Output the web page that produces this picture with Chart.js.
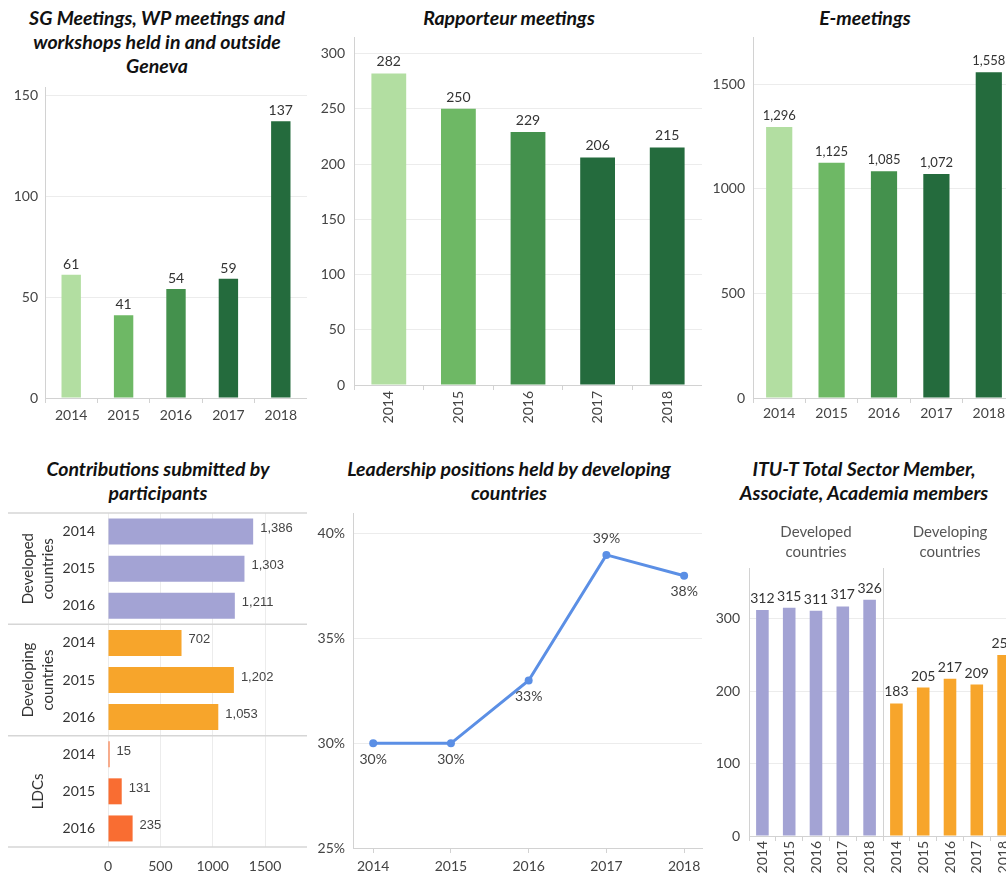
<!DOCTYPE html>
<html><head><meta charset="utf-8">
<script src="https://cdn.jsdelivr.net/npm/chart.js"></script>
<style>
html,body{margin:0;padding:0;background:#fff;width:1006px;height:875px;overflow:hidden;position:relative;}
.t{position:absolute;font:italic bold 19.5px Lato, 'Open Sans', sans-serif;color:#111;text-align:center;line-height:24px;white-space:nowrap;transform:translateX(-50%);}
canvas{position:absolute;}
</style></head><body>
<div class="t" style="left:157px;top:6px">SG Meetings, WP meetings and<br>workshops held in and outside<br>Geneva</div>
<div class="t" style="left:509px;top:6px">Rapporteur meetings</div>
<div class="t" style="left:865px;top:6px">E-meetings</div>
<div class="t" style="left:158px;top:457px">Contributions submitted by<br>participants</div>
<div class="t" style="left:509px;top:457px">Leadership positions held by developing<br>countries</div>
<div class="t" style="left:864px;top:457px">ITU-T Total Sector Member,<br>Associate, Academia members</div>
<script>
// ---- data ----
const years = ['2014','2015','2016','2017','2018'];
const sgMeetings = [61, 41, 54, 59, 137];
const rapporteurMeetings = [282, 250, 229, 206, 215];
const eMeetings = [1296, 1125, 1085, 1072, 1558];
const contribYears = ['2014','2015','2016'];
const contribGroups = [['Developed','countries'], ['Developing','countries'], ['LDCs']];
const contribDeveloped = [1386, 1303, 1211];
const contribDeveloping = [702, 1202, 1053];
const contribLDCs = [15, 131, 235];
const leadershipYears = [2014, 2015, 2016, 2017, 2018];
const leadershipPct = [30, 30, 33, 39, 38];
const memberGroups = [['Developed','countries'], ['Developing','countries']];
const membersDeveloped = [312, 315, 311, 317, 326];
const membersDeveloping = [183, 205, 217, 209, 250];
const ticksSG = [0, 50, 100, 150];
const ticksRap = [0, 50, 100, 150, 200, 250, 300];
const ticksE = [0, 500, 1000, 1500];
const ticksContrib = [0, 500, 1000, 1500];
const ticksLead = [25, 30, 35, 40];
const ticksMembers = [0, 100, 200, 300];

// ---- styles ----
const greens = ['#b2dea1', '#6eb865', '#44914d', '#246b3d', '#246b3d'];
const LAV = '#a3a3d4', ORA = '#f7a52b', RED = '#f96d32', BLUE = '#5b8fe5';
const GRID = '#ececec', AXIS = '#d2d2d2';

Chart.defaults.font.family = "Lato, 'Open Sans', sans-serif";
Chart.defaults.font.size = 14;
Chart.defaults.color = '#444';
Chart.defaults.animation = false;
Chart.defaults.plugins.legend.display = false;
Chart.defaults.plugins.tooltip.enabled = false;

function mk(left, top, width, height) {
  const c = document.createElement('canvas');
  c.width = width; c.height = height;
  c.style.left = left + 'px'; c.style.top = top + 'px';
  document.body.appendChild(c);
  return c;
}
const fixW = w => s => { s.width = w; };
const fixH = h => s => { s.height = h; };
const setTicks = arr => s => { s.ticks = arr.map(v => ({ value: v })); };
const fmtNum = v => Number(v).toLocaleString('en-US');

function labels(cfg) {
  return { id: 'vlabels', afterDatasetsDraw(chart) {
    const ctx = chart.ctx; ctx.save();
    ctx.font = cfg.font; ctx.fillStyle = cfg.color;
    chart.data.datasets.forEach((ds, di) => {
      chart.getDatasetMeta(di).data.forEach((el, i) => {
        const v = ds.data[i];
        const txt = cfg.fmt(typeof v === 'object' ? v.y : v);
        if (cfg.mode === 'h') {
          ctx.textAlign = 'left'; ctx.textBaseline = 'middle';
          ctx.fillText(txt, el.x + cfg.gap, el.y + cfg.dy);
        } else if (cfg.mode === 'line') {
          ctx.textAlign = 'center'; ctx.textBaseline = 'middle';
          ctx.fillText(txt, el.x, el.y + (cfg.pos[i] === 'above' ? -cfg.gap : cfg.gap));
        } else {
          ctx.textAlign = 'center'; ctx.textBaseline = 'alphabetic';
          ctx.fillText(txt, el.x, el.y - cfg.gap);
        }
      });
    });
    ctx.restore();
  }};
}

function yAxis(min, max, arr, w, pad, fmt) {
  return { min, max, afterBuildTicks: setTicks(arr), afterFit: fixW(w),
    grid: { color: GRID, drawTicks: false }, border: { color: AXIS },
    ticks: { padding: pad, color: '#444', font: { size: 14 }, callback: fmt || (v => String(v)) } };
}
function xCat(h, pad, rot) {
  return { afterFit: fixH(h),
    grid: { drawOnChartArea: false, drawTicks: true, tickLength: 5, color: AXIS }, border: { color: AXIS },
    ticks: { padding: pad, autoSkip: false, maxRotation: rot, minRotation: rot, color: '#444', font: { size: 14 } } };
}

// ---- Chart 1: SG meetings ----
new Chart(mk(5, 63, 302, 365), {
  type: 'bar',
  data: { labels: years, datasets: [{ data: sgMeetings, backgroundColor: greens, categoryPercentage: 1, barPercentage: 0.37 }] },
  options: { responsive: false, layout: { padding: { top: 24 } },
    scales: { x: xCat(30, 4, 0), y: yAxis(0, 154, ticksSG, 40, 7) } },
  plugins: [labels({ font: '14px Lato', color: '#333', fmt: fmtNum, gap: 6 })]
});

// ---- Chart 2: Rapporteur meetings ----
new Chart(mk(310, 13, 392, 417), {
  type: 'bar',
  data: { labels: years, datasets: [{ data: rapporteurMeetings, backgroundColor: greens, categoryPercentage: 1, barPercentage: 0.5 }] },
  options: { responsive: false, layout: { padding: { top: 24 } },
    scales: { x: xCat(45, 1, 90), y: yAxis(0, 315, ticksRap, 44, 9) } },
  plugins: [labels({ font: '14px Lato', color: '#333', fmt: fmtNum, gap: 7 })]
});

// ---- Chart 3: E-meetings ----
new Chart(mk(703, 13, 312, 415), {
  type: 'bar',
  data: { labels: years, datasets: [{ data: eMeetings, backgroundColor: greens, categoryPercentage: 1, barPercentage: 0.5 }] },
  options: { responsive: false, layout: { padding: { top: 24 } },
    scales: { x: xCat(30, 2, 0), y: yAxis(0, 1727, ticksE, 50, 8) } },
  plugins: [labels({ font: '13px Lato', color: '#333', fmt: fmtNum, gap: 7 })]
});

// ---- Chart 4: Contributions (horizontal) ----
const contribLabels = [].concat(contribYears, contribYears, contribYears);
const contribData = [].concat(contribDeveloped, contribDeveloping, contribLDCs);
const contribColors = [].concat(contribDeveloped.map(() => LAV), contribDeveloping.map(() => ORA), contribLDCs.map(() => RED));
const groupPlugin = { id: 'groups', afterDraw(chart) {
  const ctx = chart.ctx, y = chart.scales.y, a = chart.chartArea;
  const n = contribYears.length;
  ctx.save();
  ctx.strokeStyle = '#d6d6d6'; ctx.lineWidth = 1.5;
  for (let g = 0; g <= contribGroups.length; g++) {
    let yy;
    if (g === 0) yy = a.top; else if (g === contribGroups.length) yy = a.bottom;
    else yy = (y.getPixelForValue(g * n - 1) + y.getPixelForValue(g * n)) / 2;
    ctx.beginPath(); ctx.moveTo(8, yy); ctx.lineTo(a.right, yy); ctx.stroke();
  }
  ctx.font = '15px Lato'; ctx.fillStyle = '#333'; ctx.textAlign = 'center'; ctx.textBaseline = 'middle';
  contribGroups.forEach((lines, g) => {
    const cy = y.getPixelForValue(g * n + (n - 1) / 2);
    ctx.save(); ctx.translate(a.left - 70, cy); ctx.rotate(-Math.PI / 2);
    lines.forEach((ln, j) => ctx.fillText(ln, 0, (j - (lines.length - 1) / 2) * 20));
    ctx.restore();
  });
  ctx.restore();
}};
new Chart(mk(0, 489, 307, 386), {
  type: 'bar',
  data: { labels: contribLabels, datasets: [{ data: contribData, backgroundColor: contribColors, categoryPercentage: 1, barPercentage: 0.7 }] },
  options: { responsive: false, indexAxis: 'y', layout: { padding: { top: 24 } },
    scales: {
      x: { min: 0, max: 1900, afterBuildTicks: setTicks(ticksContrib), afterFit: fixH(28),
           grid: { color: GRID, drawTicks: false }, border: { display: false },
           ticks: { padding: 11, color: '#444', font: { size: 14 }, callback: v => String(v) } },
      y: { afterFit: fixW(108), grid: { display: false }, border: { display: false },
           ticks: { padding: 5, autoSkip: false, color: '#333', font: { size: 14 } } }
    } },
  plugins: [groupPlugin, labels({ mode: 'h', font: '13px "Liberation Sans", Arial', color: '#444', fmt: fmtNum, gap: 7, dy: -3 })]
});

// ---- Chart 5: Leadership positions ----
new Chart(mk(303, 489, 405, 386), {
  type: 'line',
  data: { datasets: [{ data: leadershipYears.map((yr, i) => ({ x: yr, y: leadershipPct[i] })),
    borderColor: BLUE, backgroundColor: BLUE, borderWidth: 3, pointRadius: 4, pointBorderWidth: 0,
    pointBackgroundColor: BLUE, tension: 0 }] },
  options: { responsive: false, layout: { padding: { top: 24, right: 6 } },
    scales: {
      x: { type: 'linear', min: 2013.74, max: 2018.23, afterBuildTicks: setTicks(leadershipYears), afterFit: fixH(27),
           grid: { drawOnChartArea: false, drawTicks: true, tickLength: 5, color: AXIS }, border: { color: AXIS },
           ticks: { padding: 5, color: '#444', font: { size: 14 }, callback: v => String(v) } },
      y: yAxis(25, 41, ticksLead, 50, 8, v => v + '%')
    } },
  plugins: [labels({ mode: 'line', font: '14px Lato', color: '#444', fmt: v => v + '%', gap: 16,
    pos: ['below', 'below', 'below', 'above', 'below'] })]
});

// ---- Chart 6: ITU-T members ----
const memberLabels = [].concat(years, years);
const memberData = [].concat(membersDeveloped, membersDeveloping);
const memberColors = [].concat(membersDeveloped.map(() => LAV), membersDeveloping.map(() => ORA));
const headerPlugin = { id: 'headers', afterDraw(chart) {
  const ctx = chart.ctx, x = chart.scales.x, a = chart.chartArea, n = years.length;
  ctx.save();
  ctx.strokeStyle = AXIS; ctx.lineWidth = 1;
  for (let g = 1; g < memberGroups.length; g++) {
    const xx = Math.round((x.getPixelForValue(g * n - 1) + x.getPixelForValue(g * n)) / 2) + 0.5;
    ctx.beginPath(); ctx.moveTo(xx, a.top); ctx.lineTo(xx, a.bottom); ctx.stroke();
  }
  ctx.font = '15px Lato'; ctx.fillStyle = '#555'; ctx.textAlign = 'center'; ctx.textBaseline = 'middle';
  memberGroups.forEach((lines, g) => {
    const cx = x.getPixelForValue(g * n + (n - 1) / 2);
    lines.forEach((ln, j) => ctx.fillText(ln, cx, a.top - 36 + j * 20));
  });
  ctx.restore();
}};
new Chart(mk(704, 518, 321, 357), {
  type: 'bar',
  data: { labels: memberLabels, datasets: [{ data: memberData, backgroundColor: memberColors, categoryPercentage: 1, barPercentage: 0.47 }] },
  options: { responsive: false, layout: { padding: { top: 50, right: 8 } },
    scales: { x: xCat(39, 0, 90), y: yAxis(0, 370, ticksMembers, 45, 9) } },
  plugins: [headerPlugin, labels({ font: '14px Lato', color: '#333', fmt: fmtNum, gap: 7 })]
});
</script>
</body></html>
